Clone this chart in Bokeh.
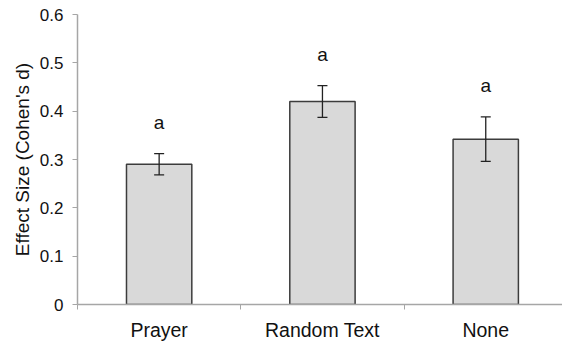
from bokeh.plotting import figure
from bokeh.models import ColumnDataSource, FixedTicker, Whisker, Range1d
from bokeh.embed import file_html
from bokeh.resources import INLINE
from bokeh.core.properties import value

categories = ["Prayer", "Random Text", "None"]
effect = [0.29, 0.42, 0.342]
err = [0.022, 0.033, 0.046]
letters = ["a", "a", "a"]
y_ticks = [0, 0.1, 0.2, 0.3, 0.4, 0.5, 0.6]

xs = [i + 0.5 for i in range(len(categories))]
src = ColumnDataSource(dict(
    x=xs, top=effect,
    upper=[m + e for m, e in zip(effect, err)],
    lower=[m - e for m, e in zip(effect, err)],
    lab=letters,
))

p = figure(width=562, height=343, output_backend="svg", toolbar_location=None,
           x_range=Range1d(0, 2.97), y_range=Range1d(0, 0.6),
           min_border_left=77, min_border_right=0, min_border_top=14, min_border_bottom=39)
p.outline_line_color = None
p.grid.visible = False

p.vbar(x="x", top="top", width=0.4, source=src, fill_color="#d9d9d9",
       line_color="#3c3c3c", line_width=1.5)

w = Whisker(base="x", upper="upper", lower="lower", source=src,
            line_color="#222222", line_width=1.3, level="overlay")
w.upper_head.size = 10
w.lower_head.size = 10
w.upper_head.line_color = "#222222"
w.lower_head.line_color = "#222222"
w.upper_head.line_width = 1.3
w.lower_head.line_width = 1.3
p.add_layout(w)

p.text(x="x", y="upper", text="lab", source=src, text_align="center",
       text_baseline="middle", y_offset=-31, text_font_size="19px",
       text_font=value("Liberation Sans"), text_color="#111111")

# x axis
p.xaxis.ticker = FixedTicker(ticks=xs, minor_ticks=[0, 1, 2, 3])
p.xaxis.major_label_overrides = {x: c for x, c in zip(xs, categories)}
p.xaxis.major_tick_line_color = None
p.xaxis.minor_tick_out = 5
p.xaxis.minor_tick_in = 0
p.xaxis.minor_tick_line_color = "#a6a6a6"
p.xaxis.axis_line_color = "#a6a6a6"
p.xaxis.axis_line_width = 1.5
p.xaxis.major_label_text_font = "Liberation Sans"
p.xaxis.major_label_text_font_size = "19.5px"
p.xaxis.major_label_text_color = "#111111"
p.xaxis.major_label_standoff = 8

# y axis
p.yaxis.ticker = FixedTicker(ticks=y_ticks, minor_ticks=[])
p.yaxis.major_label_overrides = {0: "0"}
p.yaxis.major_tick_out = 5
p.yaxis.major_tick_in = 0
p.yaxis.major_tick_line_color = "#a6a6a6"
p.yaxis.axis_line_color = "#a6a6a6"
p.yaxis.axis_line_width = 1.5
p.yaxis.major_label_text_font = "Liberation Sans"
p.yaxis.major_label_text_font_size = "17px"
p.yaxis.major_label_text_color = "#111111"
p.yaxis.major_label_standoff = 9
p.yaxis.axis_label = "Effect Size (Cohen's d)"
p.yaxis.axis_label_text_font = "Liberation Sans"
p.yaxis.axis_label_text_font_style = "normal"
p.yaxis.axis_label_text_font_size = "19px"
p.yaxis.axis_label_text_color = "#111111"
p.yaxis.axis_label_standoff = 4

open("out.html", "w").write(file_html(p, INLINE))
